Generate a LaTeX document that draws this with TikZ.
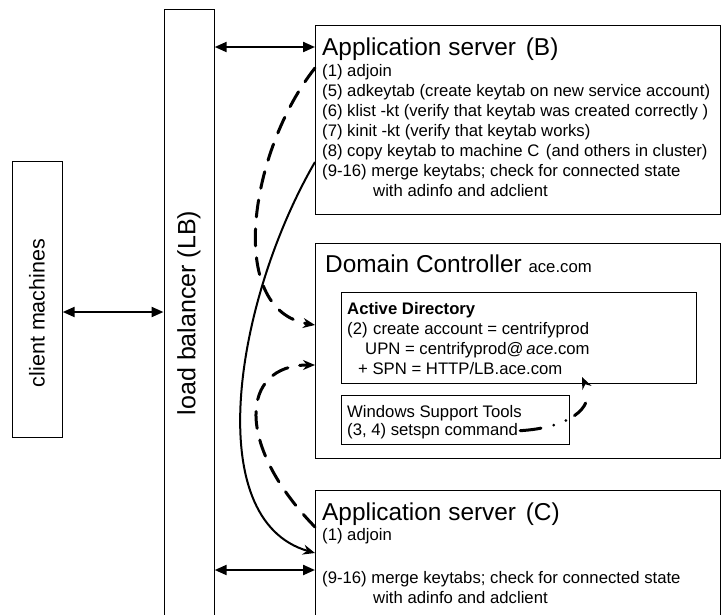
\documentclass[tikz,border=0pt]{standalone}
\usepackage{fontspec}
\setmainfont{Liberation Sans}
\usetikzlibrary{arrows.meta}
\begin{document}
\begin{tikzpicture}[x=1pt,y=-1pt,
  box/.style={draw, line width=1.2pt, inner sep=0pt, anchor=north west},
  txt/.style={inner sep=0pt, anchor=base west, font=\fontsize{16.7}{20}\selectfont},
  ttl/.style={inner sep=0pt, anchor=base west, font=\fontsize{24.4}{28}\selectfont},
  dbl/.style={line width=2.2pt, {Triangle[length=12pt,width=10pt]}-{Triangle[length=12pt,width=10pt]}},
  dsh/.style={line width=3pt, dash pattern=on 17pt off 12pt, line cap=round, -{Stealth[length=12pt,width=10pt,inset=4pt]}},
  sld/.style={line width=2pt, -{Stealth[length=12pt,width=10pt,inset=4pt]}},
  spn/.style={line width=3pt, line cap=round, dash pattern=on 21pt off 13pt on 0pt off 13pt on 0pt off 10pt on 17pt off 60pt, -{Stealth[length=12pt,width=10pt,inset=4pt]}}
]
\useasboundingbox (0,0) rectangle (721,614);
\clip (0,0) rectangle (721,614);
% boxes
\node[box, minimum width=50pt, minimum height=276pt] (CM) at (11.5,161) {};
\node[box, minimum width=50pt, minimum height=620pt] (LB) at (163.5,9) {};
\node[box, minimum width=405pt, minimum height=189pt] (B) at (315,25) {};
\node[box, minimum width=405pt, minimum height=215pt] (DC) at (315,243) {};
\node[box, minimum width=355pt, minimum height=91pt] (AD) at (341,292) {};
\node[box, minimum width=228pt, minimum height=49pt] (WST) at (341,395) {};
\node[box, minimum width=405pt, minimum height=140pt] (C) at (315,490) {};
% rotated labels
\node[rotate=90, inner sep=0pt, font=\fontsize{21.5}{24}\selectfont] (cmt) at (37,313) {client machines};
\node[rotate=90, inner sep=0pt, font=\fontsize{25}{28}\selectfont] (lbt) at (189,313) {load balancer (LB)};
% server B
\node[ttl] (Bt) at (322,55) {Application server\hspace{3pt} (B)};
\node[txt] (B1) at (322,76) {(1) adjoin};
\node[txt] (B2) at (322,96) {(5) adkeytab (create keytab on new service account)};
\node[txt] (B3) at (322,116) {(6) klist -kt (verify that keytab was created correctly )};
\node[txt] (B4) at (322,136) {(7) kinit -kt (verify that keytab works)};
\node[txt] (B5) at (322,156) {(8) copy keytab to machine C\hspace{2pt} (and others in cluster)};
\node[txt] (B6) at (322,176) {(9-16) merge keytabs; check for connected state};
\node[txt] (B7) at (373,196) {with adinfo and adclient};
% domain controller
\node[ttl] (DCt) at (325,272) {Domain Controller {\fontsize{16.7}{20}\selectfont ace.com}};
\node[txt] (AD0) at (347,314) {\bfseries Active Directory};
\node[txt] (AD1) at (347,334) {(2)\hspace{1pt} create account = centrifyprod};
\node[txt] (AD2) at (365,354) {UPN = centrifyprod@\,\textit{ace}.com};
\node[txt] (AD3) at (358,374) {+ SPN = HTTP/LB.ace.com};
\node[txt] (W1) at (347,417) {Windows Support Tools};
\node[txt] (W2) at (347,435) {(3, 4) setspn command};
% server C
\node[ttl] (Ct) at (322,520) {Application server\hspace{3pt} (C)};
\node[txt] (C1) at (322,540) {(1) adjoin};
\node[txt] (C2) at (322,583) {(9-16) merge keytabs; check for connected state};
\node[txt] (C3) at (373,603) {with adinfo and adclient};
% helper coordinates
\coordinate (y47) at (0,47);
\coordinate (y312) at (0,312);
\coordinate (y570) at (0,570);
\coordinate (y68) at (0,68);
\coordinate (y162) at (0,162);
\coordinate (y325) at (0,325);
\coordinate (y365) at (0,365);
\coordinate (y527) at (0,527);
\coordinate (y553) at (0,553);
\coordinate (spnend) at (582,377);
% double arrows
\draw[dbl] (LB.east |- y47) -- (B.west |- y47);
\draw[dbl] (CM.east |- y312) -- (LB.west |- y312);
\draw[dbl] (LB.east |- y570) -- (C.west |- y570);
% curves
\draw[dsh] (B.west |- y68) .. controls (250,150) and (225,310) .. (DC.west |- y325);
\draw[sld] (B.west |- y162) .. controls (235,300) and (200,520) .. (C.west |- y553);
\draw[dsh] (C.west |- y527) .. controls (235,445) and (240,365) .. (DC.west |- y365);
\draw[spn] ([xshift=2pt]W2.east) .. controls (565,428) and (597,410) .. (spnend);
\end{tikzpicture}
\end{document}
